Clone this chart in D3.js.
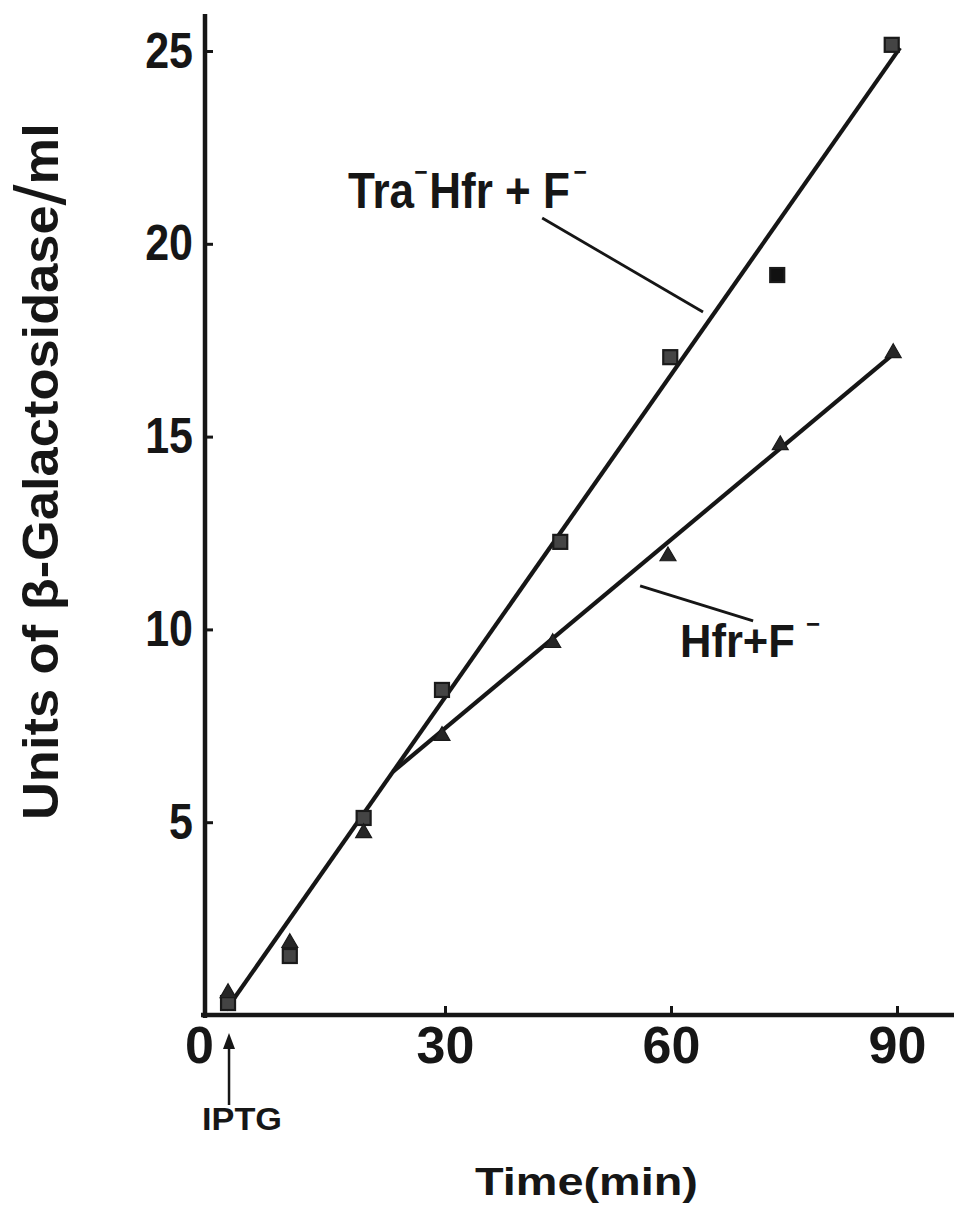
<!DOCTYPE html>
<html>
<head>
<meta charset="utf-8">
<script src="https://cdn.jsdelivr.net/npm/d3@7"></script>
<style>
  html, body { margin: 0; padding: 0; background: #fff; }
  svg { display: block; }
  text { font-family: "Liberation Sans", Arial, Helvetica, sans-serif; font-weight: bold; fill: #161616; }
</style>
</head>
<body>
<svg id="chart" width="954" height="1224"></svg>
<script>
// Measured β-galactosidase activity after IPTG induction (units/ml vs minutes)
const traTime   = [1.2, 9.4, 19.2, 29.6, 45.3, 59.9, 74.1, 89.3];
const traUnits  = [0.31, 1.53, 5.11, 8.43, 12.27, 17.06, 19.19, 25.16];
const traSolid  = [false, false, false, false, false, false, true, false];
const hfrTime   = [1.2, 9.4, 19.2, 29.6, 44.3, 59.6, 74.5, 89.5];
const hfrUnits  = [0.57, 1.87, 4.72, 7.24, 9.65, 11.9, 14.78, 17.17];

// Fitted straight lines (endpoints in minutes / units)
const traFitTime  = [0.93, 90.4];
const traFitUnits = [0.13, 25.08];
const hfrFitTime  = [23.1, 89.7];
const hfrFitUnits = [6.31, 17.17];

// Tick values
const xTicks = [0, 30, 60, 90];
const yTicks = [5, 10, 15, 20, 25];

// Label leader lines (minutes / units)
const traLeader = [[42.9, 20.67], [64.25, 18.23]];
const hfrLeader = [[55.9, 11.13], [70.9, 10.22]];
const iptgTime = 1.33;

const svg = d3.select("#chart");
const ink = "#161616";

const x = d3.scaleLinear().domain([0, 90]).range([219, 897]);
const y = d3.scaleLinear().domain([0, 25]).range([1015, 51]);

// Frame lines
svg.append("line")
  .attr("x1", 205).attr("x2", 205).attr("y1", 14).attr("y2", 1018)
  .attr("stroke", ink).attr("stroke-width", 4.5);
svg.append("line")
  .attr("x1", 201).attr("x2", 954).attr("y1", 1015).attr("y2", 1015)
  .attr("stroke", ink).attr("stroke-width", 4.5);

// Y axis ticks point inward
const yAxis = svg.append("g")
  .attr("transform", "translate(205,0)")
  .call(d3.axisLeft(y).tickValues(yTicks).tickSizeInner(-8).tickSizeOuter(0).tickPadding(12));
yAxis.select(".domain").remove();
yAxis.selectAll(".tick line").attr("stroke", ink).attr("stroke-width", 3);
yAxis.selectAll(".tick text")
  .style("font-size", "50px").style("font-family", "'Liberation Sans', Arial, sans-serif")
  .style("font-weight", "bold").attr("fill", ink)
  .attr("x", 0).attr("transform", "translate(-12,0) scale(0.86,1)");

// X axis ticks point inward
const xAxis = svg.append("g")
  .attr("transform", "translate(0,1015)")
  .call(d3.axisBottom(x).tickValues(xTicks).tickSizeInner(-9).tickSizeOuter(0).tickPadding(11));
xAxis.select(".domain").remove();
xAxis.selectAll(".tick line").attr("stroke", ink).attr("stroke-width", 3)
  .attr("display", d => d === 0 ? "none" : null);
xAxis.selectAll(".tick text")
  .style("font-size", "52px").style("font-family", "'Liberation Sans', Arial, sans-serif")
  .style("font-weight", "bold").attr("fill", ink)
  .attr("x", d => d === 0 ? -20 : 0);

// Fitted lines
const line = d3.line().x(d => x(d[0])).y(d => y(d[1]));
svg.append("path")
  .datum(d3.zip(traFitTime, traFitUnits))
  .attr("d", line).attr("fill", "none").attr("stroke", ink).attr("stroke-width", 4.2);
svg.append("path")
  .datum(d3.zip(hfrFitTime, hfrFitUnits))
  .attr("d", line).attr("fill", "none").attr("stroke", ink).attr("stroke-width", 4.2);

// Leader lines
[traLeader, hfrLeader].forEach(l => {
  svg.append("path").datum(l).attr("d", line)
    .attr("fill", "none").attr("stroke", ink).attr("stroke-width", 2.8);
});

// Square markers (Tra- Hfr + F-)
const sq = 14;
svg.append("g").selectAll("rect")
  .data(d3.range(traTime.length))
  .join("rect")
  .attr("x", i => x(traTime[i]) - sq / 2)
  .attr("y", i => y(traUnits[i]) - sq / 2)
  .attr("width", sq).attr("height", sq)
  .attr("fill", i => traSolid[i] ? "#111" : "#444")
  .attr("stroke", "#1a1a1a").attr("stroke-width", 2.2);

// Triangle markers (Hfr + F-)
const tri = d3.symbol().type(d3.symbolTriangle).size(110);
svg.append("g").selectAll("path")
  .data(d3.range(hfrTime.length))
  .join("path")
  .attr("d", tri)
  .attr("transform", i => `translate(${x(hfrTime[i])},${y(hfrUnits[i])})`)
  .attr("fill", "#262626").attr("stroke", "#1a1a1a").attr("stroke-width", 1.2);

// Fit a text group horizontally to a given width
function fitGroup(g, width, tf) {
  const w = g.node().getBBox().width;
  g.attr("transform", `${tf} scale(${width / w},1)`);
}

// Series label: Tra- Hfr + F-
{
  const g = svg.append("g");
  const t = g.append("text").attr("x", 0).attr("y", 0).style("font-size", "50px");
  t.append("tspan").text("Tra");
  t.append("tspan").attr("dy", -27).style("font-size", "26px").text("\u2212");
  t.append("tspan").attr("dy", 27).attr("dx", 2).style("font-size", "50px").text("Hfr + F");
  t.append("tspan").attr("dy", -27).attr("dx", 4).style("font-size", "26px").text("\u2212");
  fitGroup(g, 239, "translate(348,208)");
}

// Series label: Hfr + F-
{
  const g = svg.append("g");
  const t = g.append("text").attr("x", 0).attr("y", 0).style("font-size", "47px");
  t.append("tspan").text("Hfr+F");
  t.append("tspan").attr("dy", -24).attr("dx", 12).style("font-size", "26px").text("\u2212");
  fitGroup(g, 140, "translate(680,657)");
}

// Y axis title
{
  const g = svg.append("g");
  const t = g.append("text").attr("x", 0).attr("y", 0).style("font-size", "50px");
  t.append("tspan").text("Units of \u03b2-Galactosidase");
  t.append("tspan").style("font-size", "72px").style("font-weight", "normal").attr("dy", 8).text("/");
  t.append("tspan").style("font-size", "50px").attr("dy", -8).text("ml");
  fitGroup(g, 697, "translate(58,820) rotate(-90)");
}

// X axis title
{
  const g = svg.append("g");
  g.append("text").attr("x", 0).attr("y", 0).style("font-size", "39px").text("Time(min)");
  fitGroup(g, 223, "translate(475,1195)");
}

// IPTG addition marker
{
  const ax = x(iptgTime);
  svg.append("line").attr("x1", ax).attr("x2", ax).attr("y1", 1045).attr("y2", 1105)
    .attr("stroke", ink).attr("stroke-width", 2.5);
  svg.append("path")
    .attr("d", `M${ax},1033 L${ax - 6},1049 L${ax + 6},1049 Z`)
    .attr("fill", ink);
  const g = svg.append("g");
  g.append("text").attr("x", 0).attr("y", 0).style("font-size", "32px").text("IPTG");
  fitGroup(g, 80, "translate(202,1130)");
}
</script>
</body>
</html>
